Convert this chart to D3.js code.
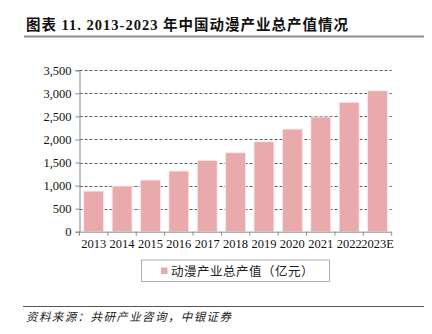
<!DOCTYPE html>
<html><head><meta charset="utf-8">
<script src="https://cdn.jsdelivr.net/npm/d3@7"></script>
<style>body{margin:0;background:#fff}svg{display:block}</style>
</head><body><svg id="c" width="432" height="334"></svg>
<script>
const categories = ["2013","2014","2015","2016","2017","2018","2019","2020","2021","2022","2023E"];
const values = [880, 990, 1120, 1315, 1545, 1712, 1950, 2225, 2487, 2805, 3055];
const yTicks = [0, 500, 1000, 1500, 2000, 2500, 3000, 3500];
const seriesName = "动漫产业总产值（亿元）";
const title = "图表 11. 2013-2023 年中国动漫产业总产值情况";
const source = "资料来源：共研产业咨询，中银证券";

(function () {
const svg = d3.select("#c");
const cjk = "'Liberation Serif','Noto Sans CJK SC',serif";
const pLeft = 79.5, pRight = 391.7, pTop = 70.3, pBottom = 231.7;
const x = d3.scaleBand().domain(categories).range([pLeft, pRight]).paddingInner(0.3).paddingOuter(0.15);
const y = d3.scaleLinear().domain([0, 3500]).range([pBottom, pTop]);

// title
svg.append("text").attr("x", 26).attr("y", 30).attr("font-family", cjk)
  .attr("font-weight", "bold").attr("font-size", 14.5).attr("letter-spacing", 1).attr("fill", "#111").text(title);
svg.append("line").attr("x1", 24).attr("x2", 424).attr("y1", 36.5).attr("y2", 36.5)
  .attr("stroke", "#8c8c8c").attr("stroke-width", 2);

// grid
svg.append("g").selectAll("line").data(yTicks.filter(d => d > 0)).join("line")
  .attr("x1", pLeft).attr("x2", pRight).attr("y1", d => Math.round(y(d)) + 0.5).attr("y2", d => Math.round(y(d)) + 0.5)
  .attr("stroke", "#333").attr("stroke-dasharray", "3,2").attr("stroke-width", 0.8);

// bars
svg.append("g").selectAll("rect").data(values).join("rect")
  .attr("x", (d, i) => x(categories[i])).attr("width", x.bandwidth())
  .attr("y", d => y(d)).attr("height", d => y(0) - y(d))
  .attr("fill", "#e8aaaa").attr("stroke", "#fbe9e9").attr("stroke-width", 0.8);

// y axis
const ya = svg.append("g").attr("transform", `translate(${pLeft},0)`)
  .call(d3.axisLeft(y).tickValues(yTicks).tickSize(4).tickPadding(4).tickFormat(d3.format(",")));
ya.select(".domain").attr("stroke", "#888");
ya.selectAll(".tick line").attr("stroke", "#888");
ya.selectAll("text").attr("font-family", "'Liberation Serif',serif").attr("font-size", 12.5).attr("fill", "#111");

// x axis
const xb = d3.scaleLinear().domain([0, categories.length]).range([pLeft, pRight]);
const xa = svg.append("g");
xa.append("line").attr("x1", pLeft).attr("x2", pRight).attr("y1", pBottom + 0.5).attr("y2", pBottom + 0.5).attr("stroke", "#888");
xa.selectAll("line.t").data(d3.range(categories.length + 1)).join("line").attr("class", "t")
  .attr("x1", d => xb(d)).attr("x2", d => xb(d)).attr("y1", pBottom).attr("y2", pBottom + 4).attr("stroke", "#888");
xa.selectAll("text").data(categories).join("text")
  .attr("x", d => x(d) + x.bandwidth() / 2).attr("y", pBottom + 16).attr("text-anchor", "middle")
  .attr("font-family", "'Liberation Serif',serif").attr("font-size", 12.5).attr("fill", "#111").text(d => d);

// legend
svg.append("rect").attr("x", 141.5).attr("y", 260).attr("width", 188).attr("height", 21.5)
  .attr("fill", "#fff").attr("stroke", "#999").attr("stroke-width", 0.8);
svg.append("rect").attr("x", 161).attr("y", 267.5).attr("width", 6.5).attr("height", 6.5).attr("fill", "#e8aaaa");
svg.append("text").attr("x", 171).attr("y", 275.5).attr("font-family", cjk).attr("font-size", 12.5)
  .attr("letter-spacing", 0.5).attr("fill", "#222").text(seriesName);

// footer
svg.append("line").attr("x1", 23).attr("x2", 424).attr("y1", 306.5).attr("y2", 306.5).attr("stroke", "#555").attr("stroke-width", 1.2);
svg.append("text").attr("x", 26).attr("y", 321).attr("font-family", cjk).attr("font-style", "italic")
  .attr("font-size", 11.5).attr("letter-spacing", 1.4).attr("fill", "#222").text(source);
})();
</script></body></html>
